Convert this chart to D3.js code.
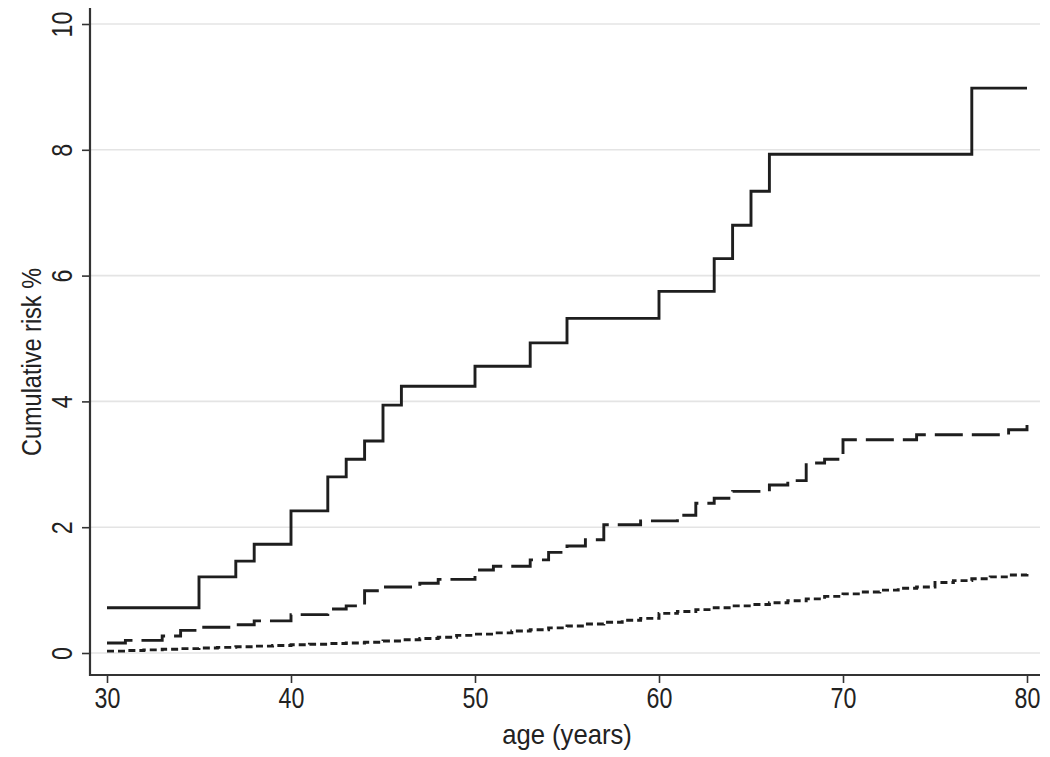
<!DOCTYPE html>
<html>
<head>
<meta charset="utf-8">
<script src="https://cdn.jsdelivr.net/npm/d3@7"></script>
<style>
  html, body { margin: 0; padding: 0; background: #fff; }
  svg { display: block; }
  text { font-family: "Liberation Sans", Arial, sans-serif; fill: #222; }
</style>
</head>
<body>
<svg id="chart" width="1050" height="757"></svg>
<script>
// ---- Data ----
const solidAges   = [30, 35, 37, 38, 40, 42, 43, 44, 45, 46, 50, 53, 55, 60, 63, 64, 65, 66, 77, 80];
const solidValues = [0.72, 1.21, 1.46, 1.73, 2.26, 2.80, 3.08, 3.37, 3.94, 4.24, 4.56, 4.93, 5.32, 5.75, 6.27, 6.80, 7.34, 7.93, 8.98, 8.98];

const dashAges   = [30, 31, 33, 34, 35, 37, 38, 40, 42, 43, 44, 45, 47, 48, 50, 51, 53, 54, 55, 56, 57, 59, 61, 62, 63, 64, 66, 67, 68, 69, 70, 74, 79, 80];
const dashValues = [0.16, 0.20, 0.27, 0.36, 0.41, 0.45, 0.51, 0.61, 0.70, 0.75, 0.99, 1.05, 1.11, 1.17, 1.32, 1.38, 1.48, 1.60, 1.70, 1.80, 2.04, 2.10, 2.19, 2.38, 2.46, 2.57, 2.67, 2.74, 3.02, 3.08, 3.39, 3.47, 3.55, 3.65];

const dotAges   = [30, 31, 32, 33, 34, 35, 36, 37, 38, 39, 40, 41, 42, 43, 44, 45, 46, 47, 48, 49, 50, 51, 52, 53, 54, 55, 56, 57, 58, 59, 60, 61, 62, 63, 64, 65, 66, 67, 68, 69, 70, 71, 72, 73, 74, 75, 76, 77, 78, 79, 80];
const dotValues = [0.03, 0.04, 0.05, 0.06, 0.07, 0.08, 0.09, 0.10, 0.11, 0.12, 0.13, 0.14, 0.15, 0.16, 0.17, 0.19, 0.21, 0.23, 0.25, 0.28, 0.30, 0.32, 0.35, 0.37, 0.40, 0.43, 0.46, 0.49, 0.52, 0.55, 0.63, 0.66, 0.69, 0.72, 0.75, 0.77, 0.80, 0.83, 0.86, 0.90, 0.94, 0.97, 1.00, 1.03, 1.05, 1.12, 1.15, 1.18, 1.21, 1.24, 1.27];

const xTicks = [30, 40, 50, 60, 70, 80];
const yTicks = [0, 2, 4, 6, 8, 10];
const xTitle = "age (years)";
const yTitle = "Cumulative risk %";

// ---- Layout ----
const svg = d3.select("#chart");
const x = d3.scaleLinear().domain([30, 80]).range([107, 1027]);
const y = d3.scaleLinear().domain([0, 10]).range([653, 24]);
const axisX = 90, axisY = 675, axisRight = 1040, axisTop = 8;

// gridlines
svg.append("g").selectAll("line").data(yTicks).join("line")
  .attr("x1", axisX).attr("x2", axisRight)
  .attr("y1", d => y(d)).attr("y2", d => y(d))
  .attr("stroke", "#e4e4e4").attr("stroke-width", 1.6);

// series
const step = d3.line().x(d => x(d[0])).y(d => y(d[1])).curve(d3.curveStepAfter);
const series = [
  { ages: solidAges, values: solidValues, dash: null, w: 2.9 },
  { ages: dashAges, values: dashValues, dash: "28,9", w: 2.9 },
  { ages: dotAges, values: dotValues, dash: "7,4", w: 2.9 }
];
series.forEach(s => {
  const pts = s.ages.map((a, i) => [a, s.values[i]]);
  svg.append("path").datum(pts)
    .attr("d", step)
    .attr("fill", "none")
    .attr("stroke", "#1e1e1e")
    .attr("stroke-width", s.w)
    .attr("stroke-dasharray", s.dash);
});

// axes
const xAxis = d3.axisBottom(x).tickValues(xTicks).tickSize(8).tickPadding(6).tickSizeOuter(0);
const gx = svg.append("g").attr("transform", `translate(0,${axisY})`).call(xAxis);
gx.select(".domain").remove();
gx.selectAll(".tick line").attr("stroke", "#333").attr("stroke-width", 1.6);
gx.selectAll(".tick text").attr("font-size", 29).attr("fill", "#222")
  .attr("y", 33).attr("dy", 0)
  .attr("transform", "scale(0.8,1)")
  .style("font-family", '"Liberation Sans", Arial, sans-serif');

const yAxis = d3.axisLeft(y).tickValues(yTicks).tickSize(8).tickPadding(0).tickSizeOuter(0);
const gy = svg.append("g").attr("transform", `translate(${axisX},0)`).call(yAxis);
gy.select(".domain").remove();
gy.selectAll(".tick line").attr("stroke", "#333").attr("stroke-width", 1.6);
gy.selectAll(".tick text")
  .attr("font-size", 29).attr("fill", "#222")
  .attr("x", 0).attr("dy", 0)
  .attr("text-anchor", "middle")
  .attr("transform", "translate(-18,0) rotate(-90) scale(0.8,1)")
  .style("font-family", '"Liberation Sans", Arial, sans-serif');

// axis lines
svg.append("line").attr("x1", axisX).attr("x2", axisX).attr("y1", axisTop).attr("y2", axisY + 1)
  .attr("stroke", "#333").attr("stroke-width", 2.2);
svg.append("line").attr("x1", axisX - 1).attr("x2", axisRight).attr("y1", axisY).attr("y2", axisY)
  .attr("stroke", "#333").attr("stroke-width", 2.2);

// titles
svg.append("text").attr("transform", `translate(${(x(30) + x(80)) / 2},744) scale(0.95,1)`)
  .attr("text-anchor", "middle").attr("font-size", 27).text(xTitle);
svg.append("text").attr("transform", `translate(41,362) rotate(-90) scale(0.84,1)`)
  .attr("text-anchor", "middle").attr("font-size", 28).text(yTitle);
</script>
</body>
</html>
